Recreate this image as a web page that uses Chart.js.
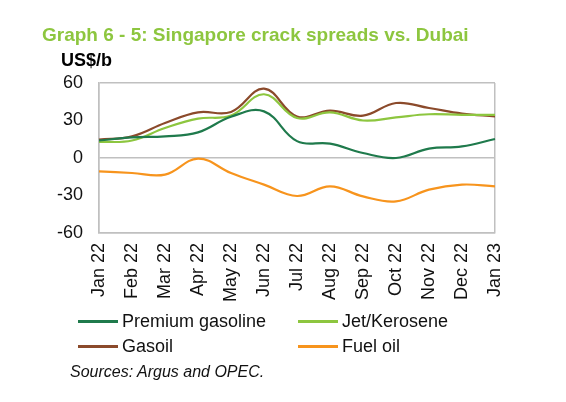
<!DOCTYPE html>
<html>
<head>
<meta charset="utf-8">
<script src="https://cdn.jsdelivr.net/npm/chart.js@4"></script>
<style>
  html, body { margin: 0; padding: 0; background: #fff; overflow: hidden; }
  body { width: 566px; height: 402px; position: relative; font-family: "Liberation Sans", Arial, sans-serif; }
  #wrap { position: absolute; left: 0; top: 0; width: 566px; height: 402px; }
  .txt { position: absolute; white-space: nowrap; line-height: 1; }
  #title { left: 42px; top: 25px; font-size: 19px; font-weight: bold; color: #8dc63f; }
  #unit { left: 61px; top: 51px; font-size: 18px; font-weight: bold; color: #000; }
  .leg { position: absolute; font-size: 18px; line-height: 18px; color: #111; white-space: nowrap; }
  .leg i { display: inline-block; width: 40px; height: 3px; vertical-align: middle; margin-right: 4px; position: relative; top: -1px; }
  #src { left: 70px; top: 364px; font-size: 16px; font-style: italic; color: #111; }
</style>
</head>
<body>
<div id="wrap"><canvas id="crackChart"></canvas></div>
<div class="txt" id="title">Graph 6 - 5: Singapore crack spreads vs. Dubai</div>
<div class="txt" id="unit">US$/b</div>
<div id="legend"></div>
<div class="txt" id="src">Sources: Argus and OPEC.</div>
<script>
// chart data
const months = ["Jan 22", "Feb 22", "Mar 22", "Apr 22", "May 22", "Jun 22", "Jul 22",
  "Aug 22", "Sep 22", "Oct 22", "Nov 22", "Dec 22", "Jan 23"];
const premiumGasoline = [14, 16.5, 17.3, 20.5, 33, 37.3, 13.5, 11.5, 4, 0, 7.5, 9.3, 15.2];
const jetKerosene = [12.8, 14, 24, 31.5, 34, 51, 32, 36.5, 30, 32.5, 35, 34.5, 34.5];
const gasoil = [14.7, 17.3, 28, 36.5, 36.8, 55.5, 33.2, 37.9, 33.9, 44, 40, 35.5, 33.3];
const fuelOil = [-10.7, -12, -13.3, -0.5, -12, -21.3, -30.4, -22.7, -30.7, -34.7, -25.3, -21.3, -22.7];
const yTicks = [-60, -30, 0, 30, 60];

const seriesNames = ["Premium gasoline", "Jet/Kerosene", "Gasoil", "Fuel oil"];
const seriesColors = ["#1f7a4c", "#8dc63f", "#8b4a2b", "#f7941d"];
const seriesData = [premiumGasoline, jetKerosene, gasoil, fuelOil];

const gridGrey = "#c0c0c0";

// legend in two columns
const legendPos = [[78, 312], [298, 312], [78, 337], [298, 337]];
const legendEl = document.getElementById("legend");
seriesNames.forEach((name, i) => {
  const d = document.createElement("div");
  d.className = "leg";
  d.style.left = legendPos[i][0] + "px";
  d.style.top = legendPos[i][1] + "px";
  d.innerHTML = `<i style="background:${seriesColors[i]}"></i>${name}`;
  legendEl.appendChild(d);
});

const ctx = document.getElementById("crackChart").getContext("2d");
new Chart(ctx, {
  type: "line",
  data: {
    labels: months,
    datasets: seriesNames.map((name, i) => ({
      label: name,
      data: seriesData[i],
      borderColor: seriesColors[i],
      backgroundColor: seriesColors[i],
      borderWidth: 2.2,
      pointRadius: 0,
      tension: 0.4,
      fill: false
    }))
  },
  options: {
    responsive: true,
    maintainAspectRatio: false,
    animation: false,
    layout: { padding: { left: 39, right: 71, top: 83, bottom: 99 } },
    plugins: {
      legend: { display: false },
      tooltip: { enabled: false }
    },
    scales: {
      x: {
        grid: {
          drawTicks: false,
          color: (c) => (c.index === 0 || c.index === months.length - 1) ? gridGrey : "rgba(0,0,0,0)",
          lineWidth: 1.5
        },
        border: { color: gridGrey, width: 1.5 },
        ticks: {
          autoSkip: false,
          minRotation: 90,
          maxRotation: 90,
          padding: 10,
          color: "#111",
          font: { family: "'Liberation Sans', Arial, sans-serif", size: 18 }
        },
        afterFit: (scale) => { scale.height = 70; }
      },
      y: {
        min: -60,
        max: 60,
        afterBuildTicks: (scale) => { scale.ticks = yTicks.map(v => ({ value: v })); },
        grid: {
          drawTicks: false,
          color: (c) => (c.tick && [60, 0, -60].includes(c.tick.value)) ? gridGrey : "rgba(0,0,0,0)",
          lineWidth: 1.5
        },
        border: { color: gridGrey, width: 1.5 },
        ticks: {
          padding: 16,
          color: "#111",
          font: { family: "'Liberation Sans', Arial, sans-serif", size: 18 }
        },
        afterFit: (scale) => { scale.width = 60; }
      }
    }
  }
});
</script>
</body>
</html>
